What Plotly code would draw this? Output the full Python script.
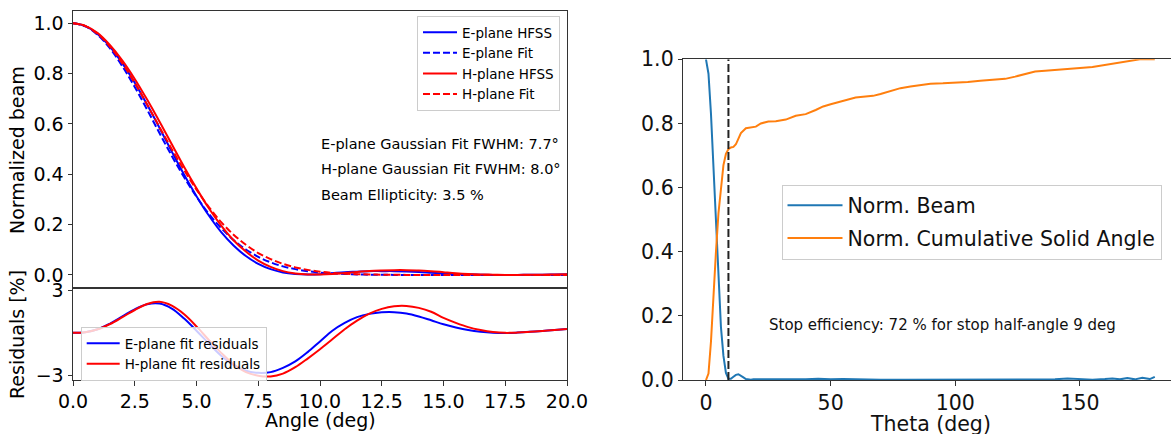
import plotly.graph_objects as go

W, H = 1171, 434
FONT = "DejaVu Sans"

# ---------------- left: beam cuts vs Gaussian fits ----------------
angle = [0.0, 0.5, 1.0, 1.5, 2.0, 2.5, 3.0, 3.5, 4.0, 4.5, 5.0, 5.5, 6.0, 6.5,
         7.0, 7.5, 8.0, 8.5, 9.0, 9.5, 10.0, 10.5, 11.0, 11.5, 12.0, 12.5, 13.0,
         13.5, 14.0, 14.5, 15.0, 15.5, 16.0, 16.5, 17.0, 17.5, 18.0, 18.5, 19.0,
         19.5, 20.0]

e_hfss = [1.000, 0.989, 0.957, 0.907, 0.841, 0.764, 0.677, 0.585, 0.490, 0.398,
          0.313, 0.236, 0.170, 0.117, 0.075, 0.044, 0.023, 0.010, 0.004, 0.002,
          0.003, 0.007, 0.011, 0.013, 0.015, 0.015, 0.015, 0.014, 0.012, 0.009,
          0.006, 0.004, 0.002, 0.001, 0.000, 0.000, 0.000, 0.001, 0.001, 0.002,
          0.003]
e_fit = [1.000, 0.988, 0.954, 0.900, 0.829, 0.747, 0.657, 0.564, 0.473, 0.388,
         0.311, 0.243, 0.186, 0.139, 0.101, 0.072, 0.050, 0.034, 0.023, 0.015,
         0.009, 0.006, 0.004, 0.002, 0.001, 0.001, 0.000, 0.000, 0.000, 0.000,
         0.000, 0.000, 0.000, 0.000, 0.000, 0.000, 0.000, 0.000, 0.000, 0.000,
         0.000]
h_hfss = [1.000, 0.990, 0.961, 0.913, 0.852, 0.779, 0.697, 0.610, 0.519, 0.429,
          0.344, 0.265, 0.196, 0.138, 0.093, 0.057, 0.032, 0.015, 0.006, 0.002,
          0.002, 0.004, 0.008, 0.012, 0.016, 0.018, 0.019, 0.019, 0.018, 0.015,
          0.011, 0.007, 0.004, 0.002, 0.001, 0.000, 0.000, 0.001, 0.001, 0.002,
          0.003]
h_fit = [1.000, 0.989, 0.958, 0.907, 0.841, 0.763, 0.677, 0.588, 0.500, 0.416,
         0.339, 0.270, 0.210, 0.160, 0.120, 0.087, 0.063, 0.044, 0.030, 0.020,
         0.013, 0.008, 0.005, 0.003, 0.002, 0.001, 0.001, 0.000, 0.000, 0.000,
         0.000, 0.000, 0.000, 0.000, 0.000, 0.000, 0.000, 0.000, 0.000, 0.000,
         0.000]

# fit residuals in percent of peak
e_resid = [0.00, 0.05, 0.25, 0.65, 1.15, 1.65, 2.00, 2.05, 1.70, 1.00, 0.15,
           -0.75, -1.60, -2.25, -2.65, -2.80, -2.75, -2.45, -2.00, -1.35, -0.60,
           0.15, 0.70, 1.10, 1.33, 1.44, 1.45, 1.36, 1.15, 0.88, 0.60, 0.38,
           0.20, 0.08, 0.01, -0.01, 0.02, 0.07, 0.13, 0.20, 0.27]
h_resid = [0.00, 0.05, 0.25, 0.62, 1.10, 1.60, 2.02, 2.17, 1.90, 1.30, 0.45,
           -0.50, -1.40, -2.20, -2.75, -3.00, -3.05, -2.85, -2.40, -1.80, -1.15,
           -0.45, 0.25, 0.85, 1.35, 1.68, 1.86, 1.88, 1.75, 1.48, 1.05, 0.70,
           0.40, 0.20, 0.06, 0.00, 0.02, 0.07, 0.13, 0.20, 0.27]

fwhm_e, fwhm_h, ellipticity = 7.7, 8.0, 3.5

# ---------------- right: full beam and cumulative solid angle ----------------
theta_beam = [0, 1, 2, 3, 4, 5, 6, 7, 8, 9, 10, 11, 12, 13, 14, 15, 16, 17, 18,
              19, 20, 25, 30, 35, 40, 45, 50, 55, 60, 70, 80, 90, 100, 110, 120,
              130, 140, 145, 150, 155, 160, 163, 166, 169, 172, 175, 178, 180]
norm_beam = [1.0, 0.955, 0.83, 0.66, 0.47, 0.30, 0.165, 0.075, 0.022, 0.004,
             0.004, 0.010, 0.016, 0.018, 0.014, 0.008, 0.003, 0.001, 0.001,
             0.002, 0.002, 0.001, 0.001, 0.001, 0.002, 0.004, 0.002, 0.003,
             0.002, 0.001, 0.001, 0.001, 0.001, 0.001, 0.001, 0.001, 0.002,
             0.005, 0.002, 0.001, 0.003, 0.005, 0.002, 0.006, 0.002, 0.007,
             0.003, 0.010]

theta_cum = [0, 1, 2, 3, 4, 5, 6, 7, 8, 9, 10, 11, 12, 13, 14, 16, 18, 20, 22,
             25, 28, 32, 36, 40, 44, 47, 50, 53, 57, 60, 63, 67, 70, 74, 78, 82,
             86, 90, 95, 100, 105, 110, 115, 120, 124, 128, 132, 136, 140, 145,
             150, 155, 160, 165, 170, 174, 180]
norm_cum = [0.0, 0.02, 0.12, 0.28, 0.40, 0.52, 0.60, 0.67, 0.705, 0.72, 0.725,
            0.727, 0.735, 0.75, 0.77, 0.785, 0.787, 0.79, 0.80, 0.806, 0.807,
            0.812, 0.824, 0.829, 0.842, 0.853, 0.86, 0.867, 0.876, 0.881, 0.883,
            0.886, 0.892, 0.902, 0.91, 0.915, 0.92, 0.924, 0.925, 0.926, 0.929,
            0.933, 0.935, 0.939, 0.946, 0.955, 0.962, 0.964, 0.966, 0.969, 0.973,
            0.976, 0.982, 0.987, 0.993, 1.0, 1.0]

stop_angle = 9
stop_eff = 72

BLUE, RED = "#0000ff", "#ff0000"
MPL_BLUE, MPL_ORANGE = "#1f77b4", "#ff7f0e"
AX = "#333333"
DASH = "7px,3px"


def px(x):
    return x / W


def py(y):
    return 1 - y / H


fig = go.Figure()

# top-left panel
for name, y, col, dash, grp in [
    ("E-plane HFSS", e_hfss, BLUE, "solid", "a"),
    ("E-plane Fit", e_fit, BLUE, DASH, "b"),
    ("H-plane HFSS", h_hfss, RED, "solid", "c"),
    ("H-plane Fit", h_fit, RED, DASH, "d"),
]:
    fig.add_trace(go.Scatter(x=angle, y=y, mode="lines", name=name,
                             line=dict(color=col, width=2, dash=dash, shape="spline"),
                             xaxis="x", yaxis="y", legend="legend", legendgroup=grp))

# bottom-left panel
for name, y, col, grp in [
    ("E-plane fit residuals", e_resid, BLUE, "e"),
    ("H-plane fit residuals", h_resid, RED, "f"),
]:
    fig.add_trace(go.Scatter(x=angle, y=y, mode="lines", name=name,
                             line=dict(color=col, width=2, shape="spline"),
                             xaxis="x2", yaxis="y2", legend="legend2", legendgroup=grp))

# right panel
fig.add_trace(go.Scatter(x=theta_beam, y=norm_beam, mode="lines", name="Norm. Beam",
                         line=dict(color=MPL_BLUE, width=2),
                         xaxis="x3", yaxis="y3", legend="legend3", legendgroup="g"))
fig.add_trace(go.Scatter(x=theta_cum, y=norm_cum, mode="lines",
                         name="Norm. Cumulative Solid Angle",
                         line=dict(color=MPL_ORANGE, width=2),
                         xaxis="x3", yaxis="y3", legend="legend3", legendgroup="h"))
fig.add_trace(go.Scatter(x=[stop_angle, stop_angle], y=[0, 1], mode="lines",
                         line=dict(color="#222222", width=2, dash="8px,3px"),
                         xaxis="x3", yaxis="y3", showlegend=False))

common = dict(showline=True, linecolor=AX, linewidth=1, showgrid=False,
              zeroline=False, ticks="outside", ticklen=4.5, tickwidth=1,
              tickcolor=AX, automargin=False)
lfont = dict(family=FONT, size=19, color="#000000")
rfont = dict(family=FONT, size=20.5, color="#111111")
legfont = dict(family=FONT, size=13.5, color="#000000")

left_dom = [px(73), px(567)]
fig.update_layout(
    width=W, height=H, margin=dict(l=0, r=0, t=0, b=0, autoexpand=False),
    paper_bgcolor="white", plot_bgcolor="white",
    font=dict(family=FONT, color="#000000"),
    xaxis=dict(common, domain=left_dom, range=[0, 20], anchor="y",
               showticklabels=False, ticks="", mirror=True),
    yaxis=dict(common, domain=[py(288), py(11)], range=[-0.052, 1.049],
               anchor="x", mirror=True, tickvals=[0, 0.2, 0.4, 0.6, 0.8, 1.0],
               tickformat=".1f", tickfont=lfont),
    xaxis2=dict(common, domain=left_dom, range=[0, 20], anchor="y2", mirror=True,
                tickvals=[0, 2.5, 5, 7.5, 10, 12.5, 15, 17.5, 20],
                tickformat=".1f", tickfont=lfont),
    yaxis2=dict(common, domain=[py(380), py(288)], range=[-3.3, 3.14],
                anchor="x2", mirror=True, tickvals=[-3, 3], tickfont=lfont),
    xaxis3=dict(common, domain=[px(683.3), 1.0], range=[-9.1, 186.5],
                anchor="y3", mirror=True, tickvals=[0, 50, 100, 150],
                tickfont=rfont),
    yaxis3=dict(common, domain=[py(380), py(59.3)], range=[0, 1], anchor="x3",
                tickvals=[0, 0.2, 0.4, 0.6, 0.8, 1.0], tickformat=".1f",
                tickfont=rfont),
    legend=dict(x=px(417), y=py(16), xanchor="left", yanchor="top",
                bgcolor="rgba(255,255,255,0.8)", bordercolor="#cccccc",
                borderwidth=1, font=legfont, tracegroupgap=0, itemwidth=34),
    legend2=dict(x=px(80.7), y=py(327), xanchor="left", yanchor="top",
                 bgcolor="rgba(255,255,255,0.8)", bordercolor="#cccccc",
                 borderwidth=1, font=legfont, tracegroupgap=0, itemwidth=33),
    legend3=dict(x=px(781.5), y=py(184.5), xanchor="left", yanchor="top",
                 bgcolor="rgba(255,255,255,0.8)", bordercolor="#cccccc",
                 borderwidth=1, font=dict(family=FONT, size=20.5, color="#111111"),
                 tracegroupgap=3, itemwidth=55),
)

TXT = dict(showarrow=False, xref="paper", yref="paper", xanchor="center",
           yanchor="middle")
ann = []
# axis titles
ann.append(dict(TXT, x=px(17), y=py(150), text="Normalized beam", textangle=-90,
                font=lfont))
ann.append(dict(TXT, x=px(17), y=py(335), text="Residuals [%]", textangle=-90,
                font=lfont))
ann.append(dict(TXT, x=px(320), y=py(420), text="Angle (deg)", font=lfont))
ann.append(dict(TXT, x=90, xref="x3", y=py(424), text="Theta (deg)", font=rfont))
# fit summary
for yy, t in zip([144.3, 169.3, 195.0],
                 [f"E-plane Gaussian Fit FWHM: {fwhm_e}°",
                  f"H-plane Gaussian Fit FWHM: {fwhm_h}°",
                  f"Beam Ellipticity: {ellipticity} %"]):
    ann.append(dict(TXT, x=px(319), y=py(yy), text=t, xanchor="left",
                    font=dict(family=FONT, size=14.5)))
ann.append(dict(TXT, x=px(767), y=py(325.4), xanchor="left",
                text=f"Stop efficiency: {stop_eff} % for stop half-angle {stop_angle} deg",
                font=dict(family=FONT, size=15, color="#111111")))
fig.update_layout(annotations=ann)

fig.write_html("out.html")
